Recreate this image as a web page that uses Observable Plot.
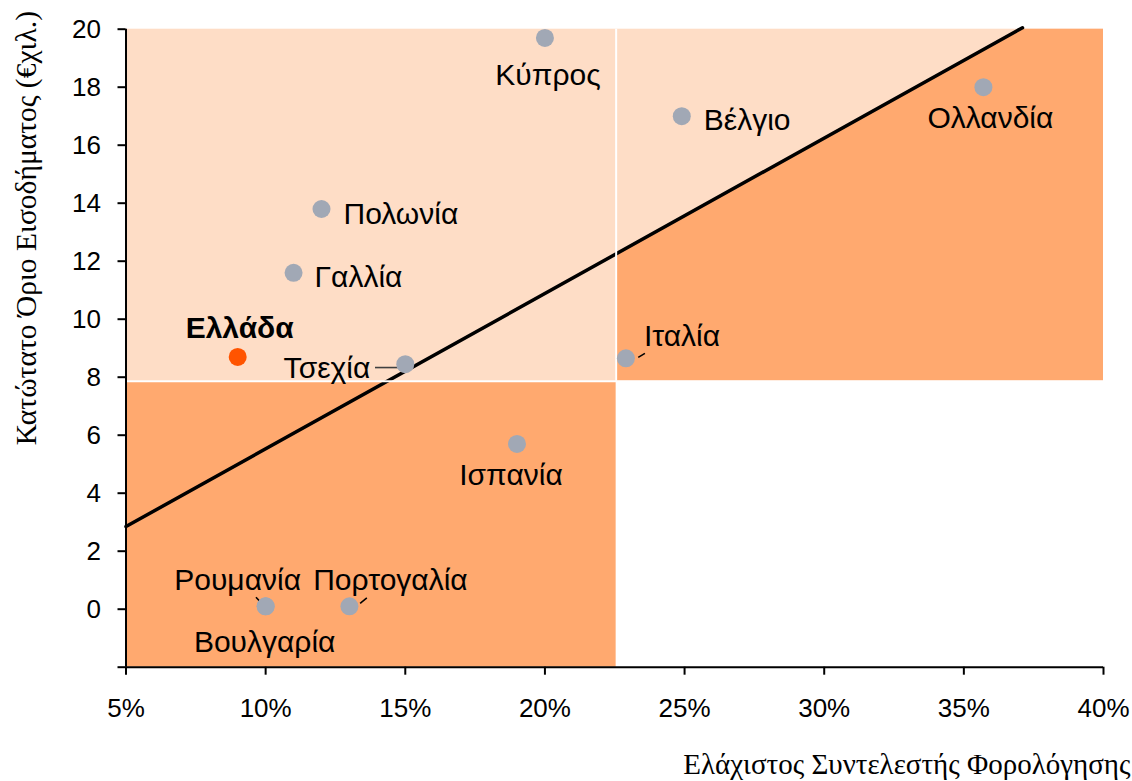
<!DOCTYPE html>
<html><head><meta charset="utf-8">
<script src="https://cdn.jsdelivr.net/npm/d3@7"></script>
<script src="https://cdn.jsdelivr.net/npm/@observablehq/plot@0.6"></script>
<style>body{margin:0;background:#fff} svg{display:block}</style>
</head><body><div id="chart"></div>
<script>
// ---- data ----
const countries = ["Κύπρος","Βέλγιο","Ολλανδία","Πολωνία","Γαλλία","Ελλάδα","Τσεχία","Ιταλία","Ισπανία","Ρουμανία","Βουλγαρία","Πορτογαλία"];
const minTaxRate = [20.0, 24.9, 35.7, 12.0, 11.0, 9.0, 15.0, 22.9, 19.0, 10.0, 10.0, 13.0];
const incomeThreshold = [19.7, 17.0, 18.0, 13.8, 11.6, 8.7, 8.45, 8.65, 5.7, 0.1, 0.1, 0.1];
const highlight = "Ελλάδα";
const xTicks = [5, 10, 15, 20, 25, 30, 35, 40];
const yTicks = [-2, 0, 2, 4, 6, 8, 10, 12, 14, 16, 18, 20];
const xDomain = [5, 40];
const yDomain = [-2, 20];
const trendX = [5, 37.1];
const trendY = [2.85, 20.05];
const splitX = 22.55;
const splitY = 7.86;
const xTitle = "Ελάχιστος Συντελεστής Φορολόγησης";
const yTitle = "Κατώτατο Όριο Εισοδήματος (€χιλ.)";

// ---- layout ----
const W = 1132, H = 781, mL = 125.5, mR = 29, mT = 28.7, mB = 114.3;
const kx = (W - mL - mR) / (xDomain[1] - xDomain[0]);
const ky = (H - mT - mB) / (yDomain[1] - yDomain[0]);
const LIGHT = "#FEDDC6", DARK = "#FFA96F", GRAY = "#A1A8B5", HL = "#FF5400";

const rows = countries.map((c, i) => ({c, x: minTaxRate[i], y: incomeThreshold[i]}));
const trend = trendX.map((x, i) => ({x, y: trendY[i]}));
const lineAt = x => trendY[0] + (x - trendX[0]) * (trendY[1] - trendY[0]) / (trendX[1] - trendX[0]);
const topRight = [
  {x: splitX, y1: splitY, y2: lineAt(splitX)},
  {x: trendX[1], y1: splitY, y2: yDomain[1]},
  {x: xDomain[1], y1: splitY, y2: yDomain[1]}
];

const place = {
  "Κύπρος":     {dx: 3,   dy: 47,   a: "middle"},
  "Βέλγιο":     {dx: 22,  dy: 13.6, a: "start"},
  "Ολλανδία":   {dx: 7,   dy: 41,   a: "middle"},
  "Πολωνία":    {dx: 22,  dy: 15,   a: "start"},
  "Γαλλία":     {dx: 21,  dy: 14.3, a: "start"},
  "Ελλάδα":     {dx: 2,   dy: -19.3, a: "middle", bold: true},
  "Τσεχία":     {dx: -35, dy: 13.4, a: "end"},
  "Ιταλία":     {dx: 18,  dy: -12.7, a: "start"},
  "Ισπανία":    {dx: -6,  dy: 41,   a: "middle"},
  "Ρουμανία":   {dx: -28, dy: -16.4, a: "middle"},
  "Βουλγαρία":  {dx: -1,  dy: 46,   a: "middle"},
  "Πορτογαλία": {dx: 41,  dy: -16.4, a: "middle"}
};
const leaders = {
  "Τσεχία":     [[-30.3, 3.4], [-7.6, 3.4], "#404040"],
  "Ιταλία":     [[12.3, -1], [19, -5], "#000"],
  "Ρουμανία":   [[-9.7, -9], [-4, -3], "#000"],
  "Πορτογαλία": [[10.7, -3], [17.4, -8.4], "#000"]
};
const leaderRows = Object.entries(leaders).map(([c, [p1, p2, col]]) => {
  const r = rows.find(d => d.c === c);
  return {c, col,
    x1: r.x + p1[0] / kx, y1: r.y - p1[1] / ky,
    x2: r.x + p2[0] / kx, y2: r.y - p2[1] / ky};
});

const labelMarks = rows.filter((r, i, arr) => arr.findIndex(d => d.c === r.c) === i).map(r => {
  const p = place[r.c];
  return Plot.text([r], {x: "x", y: "y", text: "c", dx: p.dx, dy: p.dy, textAnchor: p.a,
    lineAnchor: "bottom", fontSize: 30, fontWeight: p.bold ? "bold" : "normal", fill: "#000"});
});

const chart = Plot.plot({
  width: W, height: H,
  marginLeft: mL, marginRight: mR, marginTop: mT, marginBottom: mB,
  x: {domain: xDomain, label: null},
  y: {domain: yDomain, label: null},
  style: {fontFamily: "'Liberation Sans', Arial, sans-serif", color: "#000", background: "#fff"},
  marks: [
    Plot.rect([0], {x1: xDomain[0], x2: xDomain[1], y1: splitY, y2: yDomain[1], fill: LIGHT}),
    Plot.rect([0], {x1: xDomain[0], x2: splitX, y1: yDomain[0], y2: splitY, fill: DARK}),
    Plot.areaY(topRight, {x: "x", y1: "y1", y2: "y2", fill: DARK}),
    Plot.line(trend, {x: "x", y: "y", stroke: "#000", strokeWidth: 3.5}),
    Plot.ruleX([splitX], {y1: splitY, y2: yDomain[1], stroke: "#fff", strokeWidth: 2}),
    Plot.ruleY([splitY], {x1: xDomain[0], x2: xDomain[1], stroke: "#fff", strokeWidth: 2}),
    Plot.link(leaderRows, {x1: "x1", y1: "y1", x2: "x2", y2: "y2", stroke: "col", strokeWidth: 1.6}),
    Plot.dot(rows.filter(d => d.c !== highlight), {x: "x", y: "y", r: 9, fill: GRAY}),
    Plot.dot(rows.filter(d => d.c === highlight), {x: "x", y: "y", r: 9, fill: HL}),
    ...labelMarks,
    Plot.ruleX([xDomain[0]], {y1: yDomain[0], y2: yDomain[1], stroke: "#000", strokeWidth: 2}),
    Plot.ruleY([yDomain[0]], {x1: xDomain[0], x2: xDomain[1], stroke: "#000", strokeWidth: 2}),
    Plot.axisX({ticks: xTicks, tickFormat: d => d + "%", tickSize: 8, tickPadding: 23, fontSize: 26, strokeWidth: 2, label: null}),
    Plot.axisY({ticks: yTicks, tickFormat: d => d === -2 ? "" : String(d), tickSize: 8, tickPadding: 17, fontSize: 26, strokeWidth: 2, label: null}),
    Plot.text([xTitle], {frameAnchor: "bottom-right", text: d => d, dx: 27, dy: 98, textAnchor: "end", lineAnchor: "middle",
      fontFamily: "'Liberation Serif', 'Times New Roman', serif", fontSize: 29, fill: "#000"}),
    Plot.text([yTitle], {frameAnchor: "left", text: d => d, dx: -99, dy: -120, rotate: -90, textAnchor: "middle", lineAnchor: "middle",
      fontFamily: "'Liberation Serif', 'Times New Roman', serif", fontSize: 29.5, fill: "#000"})
  ]
});
document.getElementById("chart").appendChild(chart);
</script>
</body></html>
